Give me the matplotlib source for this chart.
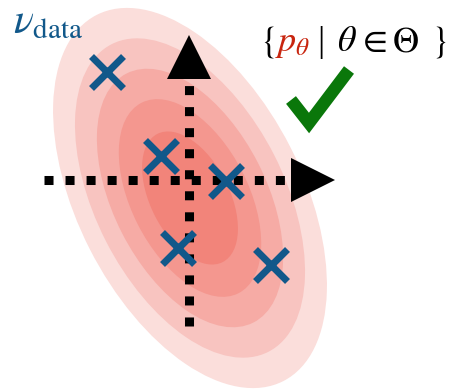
import matplotlib
matplotlib.use("Agg")
import matplotlib.pyplot as plt
from matplotlib.patches import Ellipse

plt.rcParams['mathtext.fontset'] = 'stix'
plt.rcParams['font.family'] = ['STIXGeneral', 'DejaVu Serif']

# model density: nested level sets of a tilted gaussian
center = (190, 198)
outer_w, outer_h, tilt = 411, 225, 63
level_scales = [1.0, 0.84, 0.68, 0.52, 0.35]
level_colors = ['#fbdedb', '#f8c4c0', '#f6aba5', '#f4978f', '#f2847a']

# data samples
sample_x = [107, 161, 226, 178, 271]
sample_y = [72, 156, 181, 248, 265]

# coordinate axes
h_axis_x = [44, 292]
h_axis_y = [180, 180]
v_axis_x = [189, 189]
v_axis_y = [326, 80]

# check mark
check_x = [291, 309, 349]
check_y = [100, 123, 70]

# model family label, one glyph group at a time (centred on family_x)
family_parts = [r'$\{$', r'$p_\theta$', '|', r'$\theta$', '\u2208',
                r'$\Theta$', r'$\}$']
family_colors = ['black', '#c8250f', 'black', 'black', 'black', 'black',
                 'black']
family_fonts = ['STIXGeneral', 'STIXGeneral', 'Liberation Serif',
                'STIXGeneral', 'STIXGeneral', 'STIXGeneral', 'STIXGeneral']
family_x = [267.5, 292.5, 320.5, 346.5, 375, 405, 438.5]

blue = '#11588a'
green = '#0a770a'

fig = plt.figure(figsize=(4.55, 3.9), dpi=100)
ax = fig.add_axes([0, 0, 1, 1])
ax.set_xlim(0, 455)
ax.set_ylim(390, 0)
ax.axis('off')

for s, c in zip(level_scales, level_colors):
    ax.add_patch(Ellipse(center, outer_w * s, outer_h * s, angle=tilt,
                         facecolor=c, edgecolor='none', zorder=1))

dots = (0, (1.0, 1.33))
ax.plot(h_axis_x, h_axis_y, color='black', lw=6.5, linestyle=dots,
        dash_capstyle='butt', zorder=2)
ax.plot(v_axis_x, v_axis_y, color='black', lw=6.5, linestyle=dots,
        dash_capstyle='butt', zorder=2)
ax.plot(v_axis_x[1], v_axis_y[1] - 23, marker='^', markersize=32,
        color='black', markeredgewidth=0, zorder=3)
ax.plot(h_axis_x[1] + 21, h_axis_y[1], marker='>', markersize=32,
        color='black', markeredgewidth=0, zorder=3)

ax.plot(sample_x, sample_y, linestyle='none', marker='x', markersize=23,
        markeredgewidth=5, color=blue, zorder=4)

ax.text(13, 33, r'$\nu_{\mathrm{data}}$', color=blue, fontsize=30,
        ha='left', va='baseline')

for txt, c, f, x in zip(family_parts, family_colors, family_fonts, family_x):
    ax.text(x, 51, txt, color=c, fontsize=26, family=f, ha='center',
            va='baseline', zorder=5)

ax.plot(check_x, check_y, color=green, lw=9, solid_joinstyle='miter',
        solid_capstyle='butt', zorder=5)

fig.savefig('out.png', dpi=100)
